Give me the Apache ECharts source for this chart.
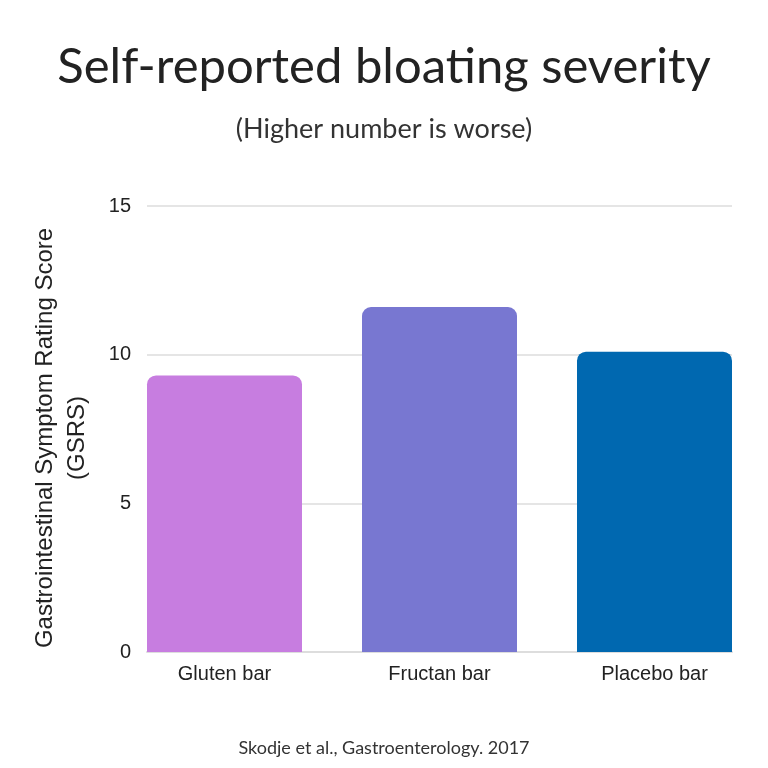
<!DOCTYPE html>
<html>
<head>
<meta charset="utf-8">
<script src="https://cdn.jsdelivr.net/npm/echarts@6/dist/echarts.min.js"></script>
<style>
  html, body { margin: 0; padding: 0; background: #fff; }
  #main { width: 768px; height: 768px; }
</style>
</head>
<body>
<div id="main"></div>
<script>
var categories = ['Gluten bar', 'Fructan bar', 'Placebo bar'];
var scores = [9.3, 11.6, 10.1];
var barColors = ['#c77de0', '#7877d1', '#0068b0'];
var yTicks = [0, 5, 10, 15];

var myChart = echarts.init(document.getElementById('main'));

var option = {
    backgroundColor: '#fff',
    title: [{
        text: 'Self-reported bloating severity',
        left: 'center',
        top: 38,
        textStyle: { fontFamily: 'Lato', fontSize: 49, fontWeight: 'normal', color: '#222' }
    }, {
        text: '(Higher number is worse)',
        left: 'center',
        top: 111,
        textStyle: { fontFamily: 'Lato', fontSize: 27, fontWeight: 'normal', color: '#333' }
    }, {
        text: 'Skodje et al., Gastroenterology. 2017',
        left: 'center',
        top: 734,
        textStyle: { fontFamily: 'Lato', fontSize: 18, fontWeight: 'normal', color: '#333' }
    }],
    grid: [
        // gridlines and y labels
        { left: 147, right: 36, top: 206, bottom: 116 },
        // bars (wider so the outer bars touch the gridline ends)
        { left: 117, right: 6, top: 206, bottom: 116 }
    ],
    xAxis: [{
        gridIndex: 0,
        type: 'category',
        data: categories,
        axisLine: { lineStyle: { color: '#dddddd', width: 2 } },
        axisTick: { show: false },
        axisLabel: { show: false }
    }, {
        gridIndex: 1,
        type: 'category',
        data: categories,
        axisLine: { show: false },
        axisTick: { show: false },
        axisLabel: {
            margin: 12,
            fontFamily: 'Liberation Sans',
            fontSize: 20,
            color: '#222'
        }
    }],
    yAxis: [{
        gridIndex: 0,
        type: 'value',
        min: yTicks[0],
        max: yTicks[yTicks.length - 1],
        interval: 5,
        name: 'Gastrointestinal Symptom Rating Score\n(GSRS)',
        nameLocation: 'middle',
        nameGap: 54,
        nameTextStyle: {
            fontFamily: 'Liberation Sans', fontSize: 24, color: '#222', lineHeight: 32,
            padding: [0, 18, 0, 0]
        },
        axisLine: { show: false },
        axisTick: { show: false },
        axisLabel: { margin: 16, fontFamily: 'Liberation Sans', fontSize: 20, color: '#222' },
        splitLine: { lineStyle: { color: '#dddddd', width: 1.5 } }
    }, {
        gridIndex: 1,
        type: 'value',
        min: yTicks[0],
        max: yTicks[yTicks.length - 1],
        show: false
    }],
    series: [{
        type: 'bar',
        xAxisIndex: 1,
        yAxisIndex: 1,
        barWidth: 155,
        data: scores.map(function (v, i) {
            return { value: v, itemStyle: { color: barColors[i] } };
        }),
        itemStyle: { borderRadius: [9, 9, 0, 0] }
    }]
};

myChart.setOption(option);
</script>
</body>
</html>
